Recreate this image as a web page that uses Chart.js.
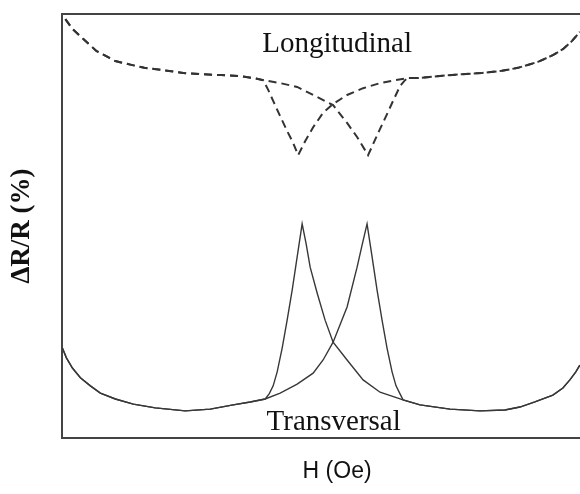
<!DOCTYPE html>
<html>
<head>
<meta charset="utf-8">
<script src="https://cdn.jsdelivr.net/npm/chart.js@4/dist/chart.umd.min.js"></script>
<style>
  html, body { margin: 0; padding: 0; background: #fff; }
  #wrap { width: 580px; height: 494px; position: relative; }
</style>
</head>
<body>
<div id="wrap"><canvas id="mrChart"></canvas></div>
<script>
// H (Oe), dR/R (a.u.) pairs for each piece of the loops

// transversal: branches shared by both sweeps
const transLeft = [
  [-50.0, 21.2], [-49.26, 18.9], [-48.15, 16.5], [-46.68, 14.2], [-44.83, 12.3],
  [-42.99, 10.6], [-40.22, 9.2], [-36.9, 8.0], [-32.84, 7.1], [-27.31, 6.4],
  [-22.69, 6.8], [-18.45, 7.8], [-15.31, 8.5], [-12.55, 9.2]
];
const transRight = [
  [12.92, 9.0], [16.05, 7.8], [21.59, 6.8], [27.12, 6.4], [31.73, 6.6],
  [34.5, 7.3], [37.27, 8.5], [40.59, 10.1], [42.44, 11.8], [43.73, 13.7],
  [44.83, 15.6], [45.57, 17.2]
];
// transversal: peak at negative field
const transPeakNeg = [
  [-11.81, 10.4], [-11.07, 12.3], [-10.33, 15.6], [-9.41, 21.2], [-8.49, 27.8],
  [-7.56, 34.9], [-6.64, 42.7], [-5.72, 50.5], [-4.98, 45.8], [-4.24, 40.3],
  [-2.95, 34.2], [-1.48, 27.8], [0, 22.6], [2.58, 18.4], [5.54, 13.7], [8.67, 10.8]
];
// transversal: peak at positive field
const transPeakPos = [
  [-9.78, 10.6], [-6.64, 12.7], [-3.69, 15.3], [-1.85, 18.4], [0, 22.6],
  [2.58, 30.9], [4.43, 40.3], [5.35, 45.5], [6.27, 50.5], [7.2, 42.7],
  [8.12, 34.9], [9.04, 27.8], [9.96, 21.2], [10.89, 15.6], [11.62, 12.3], [12.36, 10.4]
];

// longitudinal: branches shared by both sweeps
const longLeft = [
  [-49.45, 98.8], [-48.15, 96.5], [-46.13, 94.1], [-43.73, 91.3], [-40.22, 88.9],
  [-37.27, 88.0], [-34.87, 87.3], [-31.73, 86.8], [-27.68, 86.1], [-24.35, 85.8],
  [-20.66, 85.6], [-17.53, 85.4], [-14.76, 84.9], [-12.92, 84.4]
];
const longRight = [
  [13.84, 84.9], [15.68, 84.9], [19.74, 85.4], [23.8, 85.8], [27.49, 86.1],
  [31.18, 86.6], [34.13, 87.3], [37.82, 88.7], [40.59, 90.3], [42.44, 91.7],
  [44.1, 93.6], [45.57, 95.8]
];
// longitudinal: dip at positive field
const longDipPos = [
  [-9.78, 83.7], [-6.64, 82.8], [-3.69, 80.9], [0, 78.5], [2.58, 74.3],
  [4.43, 71.0], [6.46, 66.7], [7.38, 69.3], [8.67, 72.9], [9.96, 76.4],
  [11.07, 79.5], [12.36, 83.0], [13.28, 84.4]
];
// longitudinal: dip at negative field
const longDipNeg = [
  [-11.99, 82.1], [-11.07, 79.5], [-9.78, 75.9], [-8.49, 72.4], [-7.38, 69.6],
  [-6.46, 66.7], [-5.17, 70.0], [-3.69, 73.3], [-1.85, 76.7], [0, 78.8],
  [2.58, 80.9], [5.54, 82.5], [8.67, 83.7], [11.44, 84.4]
];

const toPoints = (...parts) => parts.flat().map(([x, y]) => ({ x, y }));

const curveLabels = [
  { text: "Longitudinal", x: 0.74, y: 91.0 },
  { text: "Transversal", x: 0.1, y: 1.9 }
];
// field-axis label sits under H = 0 rather than under the middle of the frame
const fieldLabel = { text: "H (Oe)", x: 0.74, offset: 34 };

const solid = { borderColor: "#383838", borderWidth: 1.4, pointRadius: 0, tension: 0, fill: false };
const dashed = { borderColor: "#333", borderWidth: 2, borderDash: [8, 5], pointRadius: 0, tension: 0, fill: false };

// draws the curve names inside the plot and the field label under it
const curveLabelPlugin = {
  id: "curveLabels",
  afterDatasetsDraw(chart) {
    const { ctx, scales, chartArea } = chart;
    ctx.save();
    ctx.fillStyle = "#111";
    ctx.font = "29px 'Liberation Serif', 'Times New Roman', serif";
    ctx.textAlign = "center";
    ctx.textBaseline = "alphabetic";
    curveLabels.forEach((l) => {
      ctx.fillText(l.text, scales.x.getPixelForValue(l.x), scales.y.getPixelForValue(l.y));
    });
    ctx.font = "23px 'Liberation Sans', Arial, sans-serif";
    ctx.textBaseline = "middle";
    ctx.fillText(fieldLabel.text, scales.x.getPixelForValue(fieldLabel.x), chartArea.bottom + fieldLabel.offset);
    ctx.restore();
  }
};

const axisBorder = { display: true, color: "#444", width: 2 };
const noGrid = { display: false, drawTicks: false };

new Chart(document.getElementById("mrChart"), {
  type: "line",
  data: {
    datasets: [
      { ...solid, data: toPoints(transLeft, transPeakNeg, transRight) },
      { ...solid, data: toPoints(transLeft, transPeakPos, transRight) },
      { ...dashed, data: toPoints(longLeft, longDipPos, longRight) },
      { ...dashed, data: toPoints(longLeft, longDipNeg, longRight) }
    ]
  },
  options: {
    responsive: true,
    maintainAspectRatio: false,
    animation: false,
    layout: { padding: { top: 14, right: 0, bottom: 56, left: 0 } },
    plugins: { legend: { display: false }, tooltip: { enabled: false } },
    scales: {
      x: {
        type: "linear",
        min: -50,
        max: 45.6,
        grid: noGrid,
        border: axisBorder,
        ticks: { display: false }
      },
      xTop: {
        type: "linear",
        position: "top",
        min: -50,
        max: 45.6,
        grid: noGrid,
        border: axisBorder,
        ticks: { display: false }
      },
      y: {
        type: "linear",
        min: 0,
        max: 100,
        grid: noGrid,
        border: axisBorder,
        ticks: { display: false },
        title: {
          display: true,
          text: "ΔR/R (%)",
          color: "#111",
          font: { family: "'Liberation Serif', 'Times New Roman', serif", size: 27, weight: "bold" },
          padding: { top: 6, bottom: 24 }
        }
      }
    }
  },
  plugins: [curveLabelPlugin]
});
</script>
</body>
</html>
